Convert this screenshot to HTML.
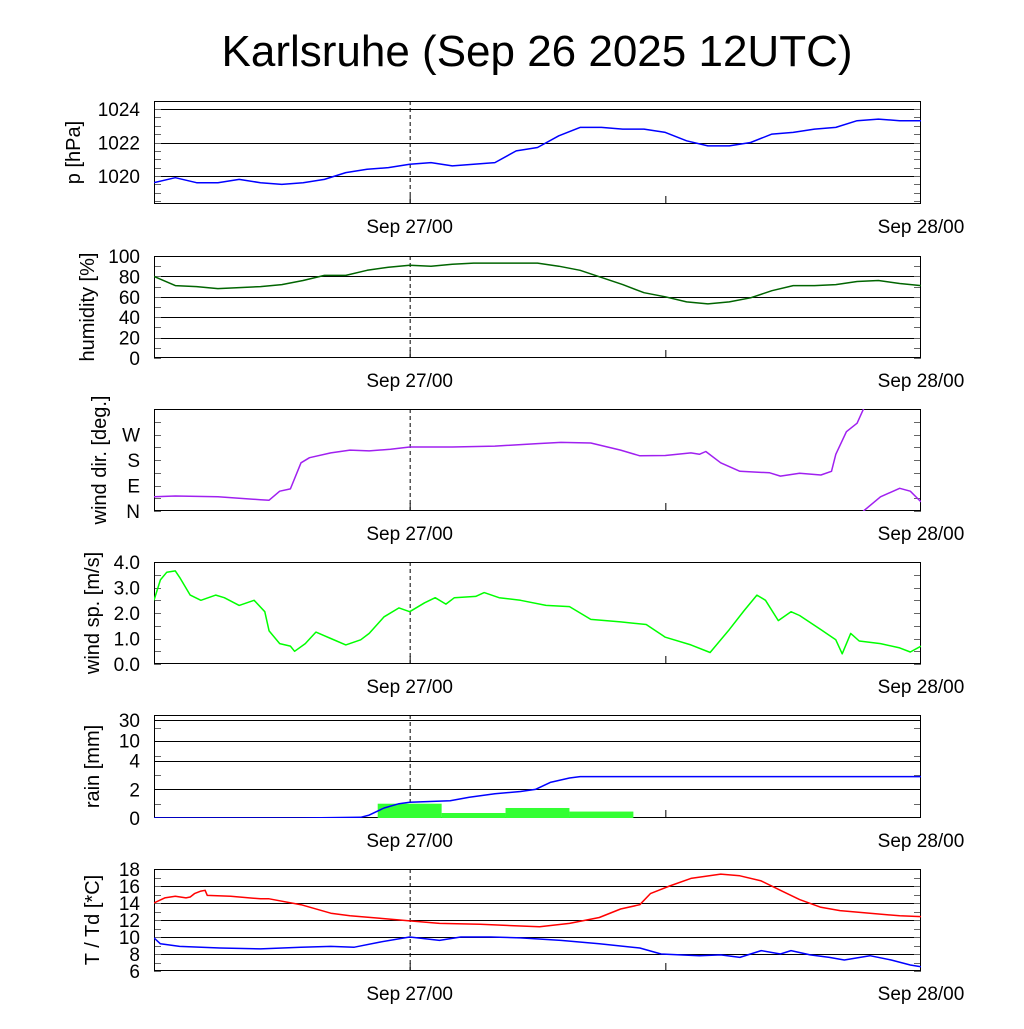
<!DOCTYPE html>
<html><head><meta charset="utf-8"><style>
body{margin:0;background:#fff}
svg text{font-family:"Liberation Sans",sans-serif}
</style></head><body>
<svg id="c" width="1024" height="1024" xmlns="http://www.w3.org/2000/svg">
<text x="537" y="66" font-size="44" text-anchor="middle">Karlsruhe (Sep 26 2025 12UTC)</text>
</svg>
<script>
// Data (hours since Sep 26 12UTC)
const pHours=[0,1,2,3,4,5,6,7,8,9,10,11,12,13,14,15,16,17,18,19,20,21,22,23,24,25,26,27,28,29,30,31,32,33,34,35,36];
const pVals=[1019.6,1019.9,1019.6,1019.6,1019.8,1019.6,1019.5,1019.6,1019.8,1020.2,1020.4,1020.5,1020.7,1020.8,1020.6,1020.7,1020.8,1021.5,1021.7,1022.4,1022.9,1022.9,1022.8,1022.8,1022.6,1022.1,1021.8,1021.8,1022.0,1022.5,1022.6,1022.8,1022.9,1023.3,1023.4,1023.3,1023.3];
const hHours=pHours;
const hVals=[80,71,70,68,69,70,72,76,81,81,86,89,91,90,92,93,93,93,93,90,86,79,72,64,60,55,53,55,59,66,71,71,72,75,76,73,71];
const dHours=[0,1,3,5,5.4,5.9,6.4,6.9,7.3,8.3,9.2,10.1,11.1,12,14,16,18,19.1,20.5,21.9,22.8,24,25.2,25.6,25.9,26.6,27.5,28.9,29.4,30.3,31.3,31.8,32,32.5,33,33.3,34.1,35,35.5,36];
const dVals=[50,53,50,40,38,70,78,170,188,205,215,212,218,226,226,229,238,242,240,215,195,196,205,200,210,170,140,135,123,133,127,140,200,280,310,360,410,440,430,392];
const sHours=[0,0.3,0.6,1.0,1.2,1.7,2.2,2.9,3.3,4.0,4.7,5.2,5.4,5.9,6.4,6.6,7.1,7.6,8.3,9.0,9.7,10.1,10.8,11.5,12.0,12.7,13.2,13.7,14.1,15.1,15.5,16.2,17.2,18.4,19.5,20.5,21.9,23.1,24.0,25.2,26.1,27.0,27.7,28.3,28.7,29.3,29.9,30.3,31.3,32.0,32.3,32.7,33.1,34.1,35.0,35.5,36];
const sVals=[2.5,3.3,3.6,3.65,3.4,2.7,2.5,2.7,2.6,2.3,2.5,2.05,1.3,0.8,0.7,0.5,0.8,1.25,1.0,0.75,0.95,1.2,1.85,2.2,2.05,2.4,2.6,2.35,2.6,2.65,2.8,2.6,2.5,2.3,2.25,1.75,1.65,1.55,1.05,0.75,0.45,1.35,2.1,2.7,2.5,1.7,2.05,1.9,1.35,0.95,0.4,1.2,0.9,0.8,0.63,0.47,0.7];
const rainBarStart=[10.5,13.5,16.5,19.5];
const rainBarVals=[1.0,0.35,0.7,0.45];
const rcHours=[0,6.9,9.7,10.1,10.8,11.5,12,13.9,14.8,16,17.2,17.9,18.6,19.5,20,36];
const rcVals=[0,0,0.05,0.2,0.7,1.0,1.1,1.2,1.45,1.7,1.85,2.0,2.5,2.8,2.9,2.9];
const tHours=[0,0.5,1,1.5,1.7,1.9,2.2,2.4,2.5,3.6,5,5.4,6.9,8.3,9.2,10.6,12,13.4,15.3,17.2,18.1,19.5,20.9,21.9,22.8,23.3,24.2,25.2,26.6,27.5,28.5,29.4,30.3,31.3,32.2,33.6,35,36];
const tVals=[14.0,14.6,14.8,14.6,14.7,15.1,15.4,15.5,14.9,14.8,14.5,14.5,13.8,12.8,12.5,12.2,11.9,11.6,11.5,11.3,11.2,11.6,12.3,13.3,13.8,15.1,16.0,16.9,17.4,17.2,16.6,15.5,14.4,13.5,13.1,12.8,12.5,12.4];
const tdHours=[0,0.3,1.2,3.1,5,6.9,8.3,9.4,10.6,12,13.4,14.4,15.8,17.2,19.1,20.9,22.8,23.8,24.7,25.6,26.6,27.5,28.5,29.4,29.9,30.8,31.7,32.4,33.6,34.6,35.5,36];
const tdVals=[9.9,9.2,8.9,8.7,8.6,8.8,8.9,8.8,9.4,10.0,9.6,10.0,10.0,9.9,9.6,9.2,8.7,8.0,7.9,7.8,7.9,7.6,8.4,8.0,8.4,7.9,7.6,7.3,7.8,7.3,6.7,6.5];
const xLabels=["Sep 27/00","Sep 28/00"];

const NS="http://www.w3.org/2000/svg";
const svgEl=document.getElementById('c');
const L=154,R=921,T0=36;
const X=h=>L+(h/T0)*(R-L);
function mk(tag,attrs,parent){const e=document.createElementNS(NS,tag);for(const k in attrs)e.setAttribute(k,attrs[k]);(parent||svgEl).appendChild(e);return e;}
const titleX=[80,94,106,99,99,99];

function panel(name,pt,pb,yfun,grid,labels,minor,title,idx){
  const g=mk('g',{});
  
  
  const cp=mk('clipPath',{id:'cl'+idx},g);
  mk('rect',{x:L,y:pt,width:R-L,height:pb-pt},cp);
  grid.forEach(v=>{const y=Math.round(yfun(v))+0.5;const l=mk('line',{x1:L,x2:R,y1:y,y2:y,stroke:'#000','stroke-width':1},g);
    
    });
  minor.forEach(v=>{const y=Math.round(yfun(v))+0.5;mk('line',{x1:L,x2:L+7,y1:y,y2:y,stroke:'#666'},g);mk('line',{x1:R-7,x2:R,y1:y,y2:y,stroke:'#666'},g);});
  labels.forEach(([v,t])=>{const tx=mk('text',{x:L-14,y:yfun(v)+7,'font-size':19,'text-anchor':'end'},g);tx.textContent=t;
    
    });
  const tt=mk('text',{x:0,y:0,'font-size':20,'text-anchor':'middle',transform:`translate(${titleX[idx]},${(pt+pb)/2}) rotate(-90)`},g);
  tt.textContent=title;
  
  
  mk('line',{x1:X(12)+0.5,x2:X(12)+0.5,y1:pt,y2:pb,stroke:'#000','stroke-dasharray':'4,3'},g);
  mk('line',{x1:X(12)+0.5,x2:X(12)+0.5,y1:pb-8,y2:pb,stroke:'#000'},g);
  mk('line',{x1:X(24)+0.5,x2:X(24)+0.5,y1:pb-8,y2:pb,stroke:'#000'},g);
  [12,36].forEach((h,i)=>{const t=mk('text',{x:X(h),y:pb+29,'font-size':19,'text-anchor':'middle'},g);t.textContent=xLabels[i];
    
    });
  mk('rect',{x:L+0.5,y:pt+0.5,width:R-L-1,height:pb-pt-1,fill:'none',stroke:'#000','stroke-width':1},g);
  return g;
}
function line(g,hs,vs,yfun,color,idx,name,off){
  const d=hs.map((h,i)=>(i?'L':'M')+X(h).toFixed(1)+','+yfun(vs[i]-(off||0)).toFixed(1)).join('');
  const p=mk('path',{d,fill:'none',stroke:color,'stroke-width':1.5,'stroke-linejoin':'round','clip-path':`url(#cl${idx})`},g);
  
  
  return p;
}
const rng=(a,b,s)=>{const r=[];for(let v=a;v<=b+1e-9;v+=s)r.push(+v.toFixed(3));return r;};

let pTop=101,pBot=204,gp;
const yP=v=>176-(v-1020)*16.75;
gp=panel('pressure',pTop,pBot,yP,[1020,1022,1024],[[1020,'1020'],[1022,'1022'],[1024,'1024']],rng(1018.5,1024,0.5),'p [hPa]',0);
line(gp,pHours,pVals,yP,'#0000ff',0,'pressure-line');

pTop=256;pBot=358;
const yH=v=>358-v*1.02;
gp=panel('humidity',pTop,pBot,yH,[20,40,60,80],[[0,'0'],[20,'20'],[40,'40'],[60,'60'],[80,'80'],[100,'100']],rng(0,100,10),'humidity [%]',1);
line(gp,hHours,hVals,yH,'#006400',1,'humidity-line');

pTop=409;pBot=511;
const yD=v=>511-v*(25.5/90);
gp=panel('wind-direction',pTop,pBot,yD,[],[[0,'N'],[90,'E'],[180,'S'],[270,'W']],rng(0,360,45),'wind dir. [deg.]',2);
line(gp,dHours,dVals,yD,'#a020f0',2,'wind-direction-line');
line(gp,dHours,dVals,yD,'#a020f0',2,'wind-direction-line-wrapped',360);

pTop=562;pBot=664;
const yS=v=>664-v*25.5;
gp=panel('wind-speed',pTop,pBot,yS,[],[[0,'0.0'],[1,'1.0'],[2,'2.0'],[3,'3.0'],[4,'4.0']],rng(0,4,0.5),'wind sp. [m/s]',3);
line(gp,sHours,sVals,yS,'#00ff00',3,'wind-speed-line');

pTop=715;pBot=818;
const yR=v=>{if(v<=2)return 818-v*14.3; if(v<=4)return 789.7-(v-2)*14.6; if(v<=10)return 760.5-19.8*Math.log(v/4)/Math.log(2.5); return 740.7-20.7*Math.log(v/10)/Math.log(3);};
gp=panel('rain',pTop,pBot,yR,[2,4,10,30],[[0,'0'],[2,'2'],[4,'4'],[10,'10'],[30,'30']],[1,3,5,20],'rain [mm]',4);
rainBarStart.forEach((h,i)=>{const b=mk('rect',{x:X(h),y:yR(rainBarVals[i]),width:X(h+3)-X(h),height:818-yR(rainBarVals[i]),fill:'#33ff33'},gp);
  
  });
line(gp,rcHours,rcVals,yR,'#0000ff',4,'cumulative-rain-line');

pTop=869;pBot=971;
const yT=v=>971-(v-6)*8.5;
gp=panel('temperature',pTop,pBot,yT,[8,10,12,14,16,18],[[6,'6'],[8,'8'],[10,'10'],[12,'12'],[14,'14'],[16,'16'],[18,'18']],rng(6,18,1),'T / Td [*C]',5);
line(gp,tHours,tVals,yT,'#ff0000',5,'temperature-line');
line(gp,tdHours,tdVals,yT,'#0000ff',5,'dewpoint-line');
</script>
</body></html>
